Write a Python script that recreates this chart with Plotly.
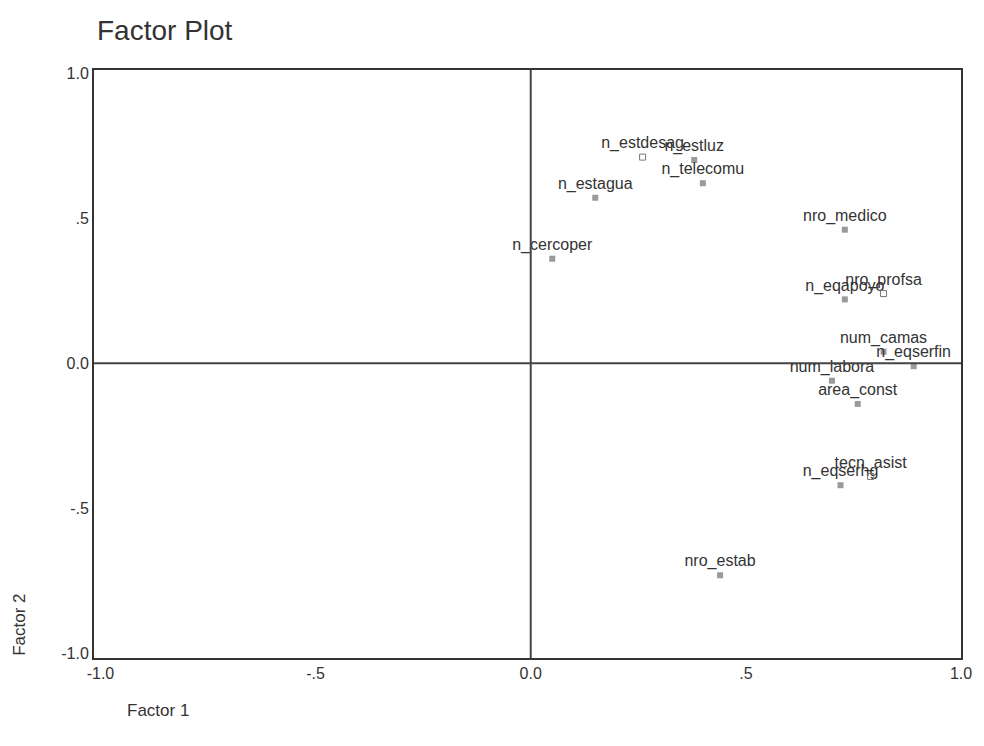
import plotly.graph_objects as go

# Data
variables = ["n_estdesag", "n_estluz", "n_telecomu", "n_estagua", "n_cercoper",
             "nro_medico", "n_eqapoyo", "nro_profsa", "num_camas", "n_eqserfin",
             "num_labora", "area_const", "tecn_asist", "n_eqserhg", "nro_estab"]
factor1 = [0.26, 0.38, 0.40, 0.15, 0.05,
           0.73, 0.73, 0.82, 0.82, 0.89,
           0.70, 0.76, 0.79, 0.72, 0.44]
factor2 = [0.71, 0.70, 0.62, 0.57, 0.36,
           0.46, 0.22, 0.24, 0.04, -0.01,
           -0.06, -0.14, -0.39, -0.42, -0.73]
hollow = ["n_estdesag", "nro_profsa", "tecn_asist"]

tick_vals = [-1.0, -0.5, 0.0, 0.5, 1.0]
tick_text = ["-1.0", "-.5", "0.0", ".5", "1.0"]

FONT = "Liberation Sans, Arial"
solid_idx = [i for i, v in enumerate(variables) if v not in hollow]
hollow_idx = [i for i, v in enumerate(variables) if v in hollow]

fig = go.Figure()
fig.add_trace(go.Scatter(
    x=[factor1[i] for i in solid_idx], y=[factor2[i] for i in solid_idx],
    text=[variables[i] for i in solid_idx],
    mode="markers+text", textposition="top center",
    textfont=dict(family=FONT, size=16, color="#333333"),
    marker=dict(symbol="square", size=6, color="#9a9a9a"),
    showlegend=False, cliponaxis=False))
fig.add_trace(go.Scatter(
    x=[factor1[i] for i in hollow_idx], y=[factor2[i] for i in hollow_idx],
    text=[variables[i] for i in hollow_idx],
    mode="markers+text", textposition="top center",
    textfont=dict(family=FONT, size=16, color="#333333"),
    marker=dict(symbol="square-open", size=6, color="#777777", line=dict(width=1)),
    showlegend=False, cliponaxis=False))

fig.add_shape(type="line", x0=0, x1=0, y0=-1.015, y1=1.01, xref="x", yref="y",
              line=dict(color="#444444", width=2))
fig.add_shape(type="line", x0=-1.015, x1=1.0, y0=0, y1=0, xref="x", yref="y",
              line=dict(color="#444444", width=2))

axis_common = dict(showgrid=False, zeroline=False, showline=True, mirror=True,
                   linecolor="#333333", linewidth=2, ticks="",
                   tickfont=dict(family=FONT, size=16, color="#333333"))
fig.update_xaxes(range=[-1.015, 1.0], tickvals=tick_vals, ticktext=tick_text, **axis_common)
fig.update_yaxes(range=[-1.015, 1.01], tickvals=tick_vals, ticktext=tick_text, **axis_common)

fig.update_layout(
    width=984, height=746,
    margin=dict(l=94, r=13, t=70, b=88),
    plot_bgcolor="white", paper_bgcolor="white",
    title=dict(text="Factor Plot", x=97/984, xanchor="left", y=1-30/746, yanchor="middle",
               font=dict(family=FONT, size=28, color="#333333")),
    annotations=[
        dict(text="Factor 1", xref="paper", yref="paper", x=(125-94)/877, y=(658-710)/588,
             xanchor="left", yanchor="middle", showarrow=False,
             font=dict(family=FONT, size=17, color="#333333")),
        dict(text="Factor 2", xref="paper", yref="paper", x=(18-94)/877, y=(658-625)/588,
             xanchor="center", yanchor="middle", textangle=-90, showarrow=False,
             font=dict(family=FONT, size=17, color="#333333")),
    ],
)

fig.write_html("out.html")
